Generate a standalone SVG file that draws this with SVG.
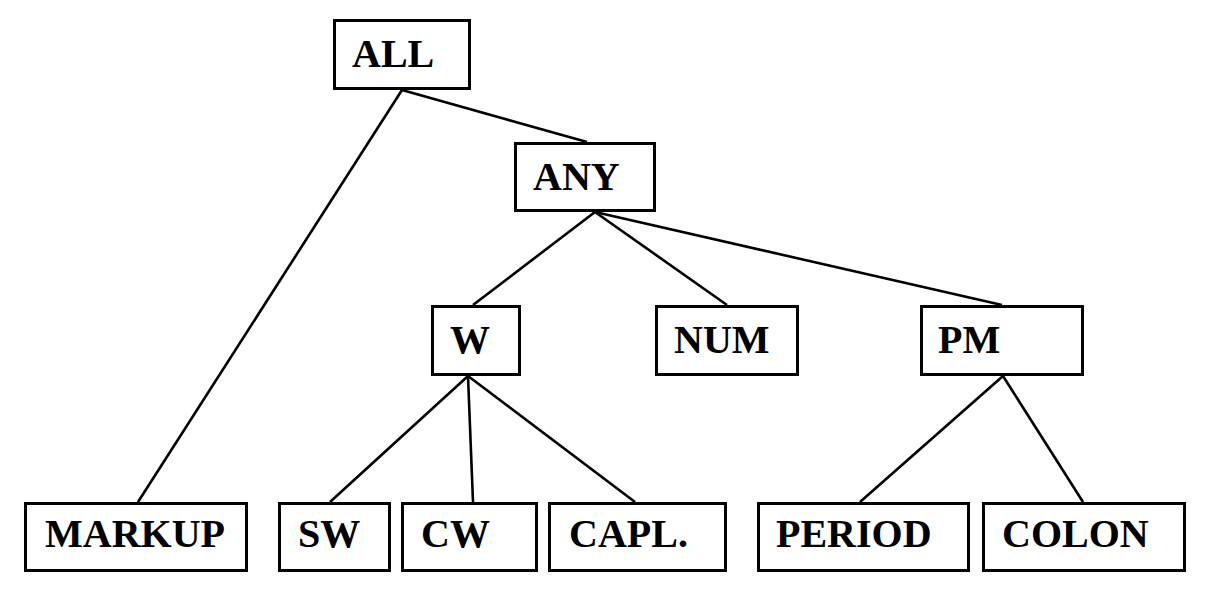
<svg xmlns="http://www.w3.org/2000/svg" width="1207" height="590" viewBox="0 0 1207 590">
<style>
rect{fill:#fff;stroke:#000;stroke-width:3}
text{font-family:"Liberation Serif","Times New Roman",serif;font-weight:bold;font-size:40px;fill:#000}
#edges line{stroke:#000;stroke-width:2.6}
</style>
<rect x="0" y="0" width="1207" height="590" style="stroke:none"/>
<g id="edges">
<line x1="402" y1="90" x2="587" y2="142"/>
<line x1="402" y1="90" x2="138" y2="502"/>
<line x1="595" y1="212" x2="473" y2="305"/>
<line x1="595" y1="212" x2="727" y2="305"/>
<line x1="595" y1="212" x2="1002" y2="305"/>
<line x1="468" y1="376" x2="330" y2="502"/>
<line x1="468" y1="376" x2="473" y2="502"/>
<line x1="468" y1="376" x2="635" y2="502"/>
<line x1="1003" y1="376" x2="860" y2="502"/>
<line x1="1003" y1="376" x2="1083" y2="502"/>
</g>
<g id="ALL"><rect x="334.5" y="20.5" width="135" height="68"/><text x="352" y="67">ALL</text></g>
<g id="ANY"><rect x="515.5" y="143.5" width="139" height="67"/><text x="533" y="190">ANY</text></g>
<g id="W"><rect x="432.5" y="306.5" width="87" height="68"/><text x="450" y="353">W</text></g>
<g id="NUM"><rect x="656.5" y="306.5" width="141" height="68"/><text x="674" y="353">NUM</text></g>
<g id="PM"><rect x="921.5" y="306.5" width="161" height="68"/><text x="938" y="353">PM</text></g>
<g id="MARKUP"><rect x="25.5" y="503.5" width="221" height="67"/><text x="45" y="547">MARKUP</text></g>
<g id="SW"><rect x="279.5" y="503.5" width="110" height="67"/><text x="298" y="547">SW</text></g>
<g id="CW"><rect x="402.5" y="503.5" width="134" height="67"/><text x="421" y="547">CW</text></g>
<g id="CAPL"><rect x="549.5" y="503.5" width="176" height="67"/><text x="569" y="547">CAPL.</text></g>
<g id="PERIOD"><rect x="758.5" y="503.5" width="210" height="67"/><text x="776" y="547">PERIOD</text></g>
<g id="COLON"><rect x="983.5" y="503.5" width="201" height="67"/><text x="1002" y="547">COLON</text></g>
</svg>
